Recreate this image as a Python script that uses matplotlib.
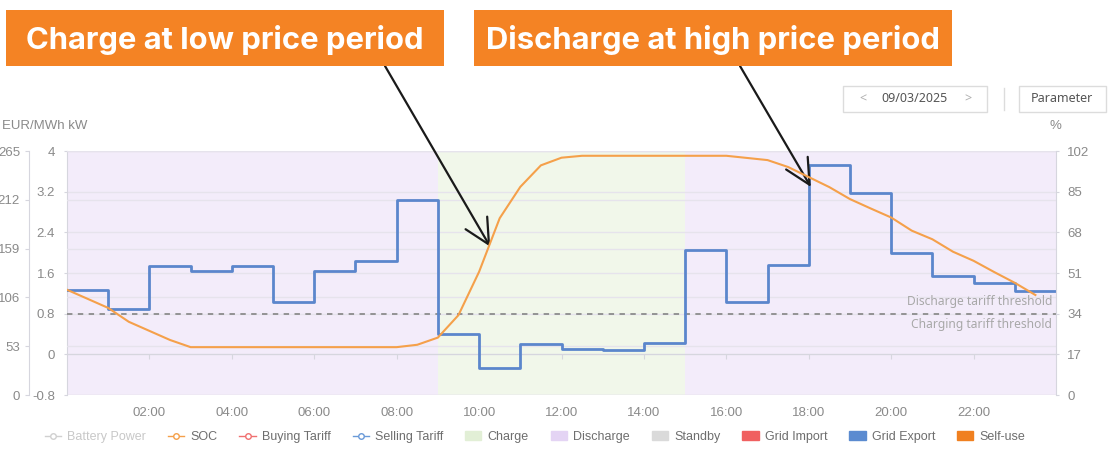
import matplotlib.pyplot as plt
from matplotlib.patches import Rectangle, Patch
from matplotlib.lines import Line2D

# hourly selling tariff (EUR/MWh), one value per hour 00-23
hours = list(range(25))
tariff = [114, 93, 140, 135, 140, 101, 135, 145, 212, 66, 29, 55,
          50, 49, 56, 157, 101, 141, 250, 219, 154, 129, 122, 113]

# battery state of charge (%)
soc_time = [0, 1, 1.5, 2.5, 3, 8, 8.5, 9, 9.5, 10, 10.5, 11, 11.5, 12, 12.5,
            16, 17, 17.5, 18, 18.5, 19, 19.5, 20, 20.5, 21, 21.5, 22, 22.5,
            23, 23.5]
soc = [44, 36.4, 30.6, 23, 20, 20, 21, 24, 33.4, 51.5, 73.9, 87, 96, 99.2, 100,
       100, 98.2, 95.3, 91.1, 86.9, 81.9, 78, 74.2, 68.7, 65.1, 59.9, 56.1,
       51.4, 46.9, 41.8]

threshold = 88.3
charge_period = (9, 15)
discharge_periods = [(0, 9), (15, 24)]

kw_ticks = [-0.8, 0, 0.8, 1.6, 2.4, 3.2, 4]
eur_ticks = [0, 53, 106, 159, 212, 265]
pct_ticks = [0, 17, 34, 51, 68, 85, 102]
x_ticks = list(range(2, 24, 2))
x_labels = ['%02d:00' % h for h in x_ticks]

W, H = 1112, 450
PX = 0.72  # points per pixel at dpi 100
plt.rcParams['font.family'] = ['Liberation Sans', 'DejaVu Sans']
fig = plt.figure(figsize=(W / 100, H / 100), dpi=100)


def fx(x):
    return x / W


def fy(y):
    return 1 - y / H


grid_c = '#e6e3ec'
label_c = '#8a8a8a'
spine_c = '#d6d6de'
blue = '#5b86cc'
orange = '#f5a04a'

ax = fig.add_axes([fx(67), fy(395), fx(1056) - fx(67), fy(151) - fy(395)])
ax.set_xlim(0, 24)
ax.set_ylim(-0.8, 4)

# background periods
for a, b in discharge_periods:
    ax.axvspan(a, b, color='#f3ecfa', lw=0, zorder=0)
ax.axvspan(*charge_period, color='#f1f7ea', lw=0, zorder=0)

for s in ['top', 'right']:
    ax.spines[s].set_visible(False)
ax.spines['left'].set_color(spine_c)
ax.set_yticks(kw_ticks)
ax.set_yticklabels(['-0.8', '0', '0.8', '1.6', '2.4', '3.2', '4'])
ax.tick_params(axis='y', colors=spine_c, labelcolor=label_c, length=3 * PX,
               pad=9 * PX, labelsize=9.5)
for v in kw_ticks:
    ax.axhline(v, color=grid_c, lw=1, zorder=1)

# x axis sits on kW zero line
ax.set_xticks(x_ticks)
ax.set_xticklabels(x_labels)
ax.spines['bottom'].set_position(('data', 0))
ax.spines['bottom'].set_color(spine_c)
ax.tick_params(axis='x', colors=spine_c, labelcolor=label_c, length=5 * PX,
               pad=34, labelsize=9.5)

# tariff axis (outer left)
ax_eur = ax.twinx()
ax_eur.set_ylim(0, 265)
ax_eur.yaxis.set_ticks_position('left')
ax_eur.yaxis.set_label_position('left')
ax_eur.spines['left'].set_position(('outward', 38 * PX))
for s in ['top', 'right', 'bottom']:
    ax_eur.spines[s].set_visible(False)
ax_eur.spines['left'].set_color(spine_c)
ax_eur.set_yticks(eur_ticks)
ax_eur.tick_params(axis='y', colors=spine_c, labelcolor=label_c, length=4 * PX,
                   pad=5 * PX, labelsize=9.5)
for v in eur_ticks:
    ax_eur.axhline(v, color=grid_c, lw=1, zorder=1)
ax_eur.axhline(threshold, color='#8c8c8c', lw=1.3, ls=(0, (3, 3)), zorder=2)
ax_eur.step(hours, tariff + [tariff[-1]], where='post', color=blue, lw=2,
            zorder=4)

# SOC axis (right)
ax_soc = ax.twinx()
ax_soc.set_ylim(0, 102)
for s in ['top', 'left', 'bottom']:
    ax_soc.spines[s].set_visible(False)
ax_soc.spines['right'].set_color(spine_c)
ax_soc.set_yticks(pct_ticks)
ax_soc.tick_params(axis='y', colors=spine_c, labelcolor=label_c, length=3 * PX,
                   pad=8 * PX, labelsize=9.5)
ax_soc.plot(soc_time, soc, color=orange, lw=1.5, zorder=5)

ax_soc.text(23.9, 38.9, 'Discharge tariff threshold', ha='right', va='center',
            color='#a8a8a8', fontsize=8.7, family=['Noto Sans', 'DejaVu Sans'])
ax_soc.text(23.9, 29.5, 'Charging tariff threshold', ha='right', va='center',
            color='#a8a8a8', fontsize=8.7, family=['Noto Sans', 'DejaVu Sans'])

fig.text(fx(2), fy(126), 'EUR/MWh kW', ha='left', va='center', color=label_c,
         fontsize=9.5)
fig.text(fx(1055), fy(126), '%', ha='center', va='center', color=label_c,
         fontsize=9.5)

# callout boxes + arrows
orange_box = '#f48324'
for (x0, x1), txt in [((6, 444), 'Charge at low price period'),
                      ((474, 952), 'Discharge at high price period')]:
    fig.add_artist(Rectangle((fx(x0), fy(66)), fx(x1) - fx(x0), fy(10) - fy(66),
                             transform=fig.transFigure, color=orange_box,
                             lw=0))
    fig.text(fx((x0 + x1) / 2), fy(40), txt, ha='center', va='center',
             color='white', fontsize=22.3, fontweight='bold',
             family=['Inter', 'DejaVu Sans'])

arrow_kw = dict(arrowstyle='->,head_length=0.9,head_width=0.45', color='#1a1a1a',
                lw=1.6, mutation_scale=20, shrinkA=0, shrinkB=0)
ax_soc.annotate('', xy=(10.27, 62), xytext=(fx(385), fy(66)),
                textcoords='figure fraction', arrowprops=arrow_kw,
                annotation_clip=False)
ax_soc.annotate('', xy=(18.05, 87), xytext=(fx(740), fy(66)),
                textcoords='figure fraction', arrowprops=arrow_kw,
                annotation_clip=False)

# date picker / parameter buttons
box_c = '#dcdcdc'
fig.add_artist(Rectangle((fx(843), fy(112)), fx(987) - fx(843), fy(86) - fy(112),
                         transform=fig.transFigure, fill=False, ec=box_c, lw=1))
fig.add_artist(Rectangle((fx(1019), fy(112)), fx(1106) - fx(1019),
                         fy(86) - fy(112), transform=fig.transFigure,
                         fill=False, ec=box_c, lw=1))
fig.add_artist(Line2D([fx(1004), fx(1004)], [fy(88), fy(110)],
                      transform=fig.transFigure, color=box_c, lw=1))
picker_font = ['Noto Sans', 'DejaVu Sans']
fig.text(fx(863), fy(99), '<', ha='center', va='center', color='#b0b0b0',
         fontsize=9, family=picker_font)
fig.text(fx(968), fy(99), '>', ha='center', va='center', color='#b0b0b0',
         fontsize=9, family=picker_font)
fig.text(fx(915), fy(99), '09/03/2025', ha='center', va='center',
         color='#555555', fontsize=9, family=picker_font)
fig.text(fx(1062), fy(99), 'Parameter', ha='center', va='center',
         color='#555555', fontsize=9, family=picker_font)

# legend
handles = [
    Line2D([], [], color='#d0d0d0', marker='o', mfc='white', ms=4, lw=1),
    Line2D([], [], color=orange, marker='o', mfc='white', ms=4, lw=1),
    Line2D([], [], color='#f07070', marker='o', mfc='white', ms=4, lw=1),
    Line2D([], [], color='#6a9ad8', marker='o', mfc='white', ms=4, lw=1),
    Patch(color='#e2efd6'),
    Patch(color='#e4d4f4'),
    Patch(color='#dadada'),
    Patch(color='#f06060'),
    Patch(color='#5b8bd0'),
    Patch(color='#f08020'),
]
names = ['Battery Power', 'SOC', 'Buying Tariff', 'Selling Tariff', 'Charge',
         'Discharge', 'Standby', 'Grid Import', 'Grid Export', 'Self-use']
leg = fig.legend(handles, names, loc='center', bbox_to_anchor=(fx(535), fy(437)),
                 ncol=10, frameon=False, fontsize=9, handlelength=1.3,
                 handleheight=0.7, handletextpad=0.5, columnspacing=1.75)
for i, t in enumerate(leg.get_texts()):
    t.set_color('#c8c8c8' if i == 0 else '#6e6e6e')

fig.savefig('out.png', dpi=100)
